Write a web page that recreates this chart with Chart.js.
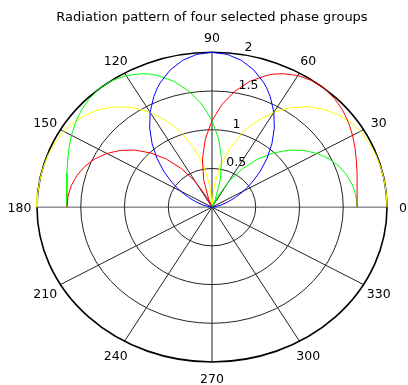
<!DOCTYPE html>
<html><head><meta charset="utf-8">
<script src="https://cdn.jsdelivr.net/npm/chart.js@4"></script>
<style>html,body{margin:0;padding:0;background:#fff}#wrap{width:408px;height:385px}</style>
</head><body><div id="wrap"><canvas id="c" width="408" height="385"></canvas></div>
<script>
// angles (degrees) at which each pattern was read
const angles = [0,5,10,15,20,25,30,35,40,45,50,55,60,65,68,70,75,80,85,90,95,100,105,110,112,115,120,125,130,135,140,145,150,155,160,165,170,175,180];
// radii
const blue   = [0,0.012,0.048,0.107,0.189,0.293,0.418,0.561,0.719,0.888,1.064,1.241,1.414,1.575,1.664,1.718,1.837,1.926,1.981,2.000,1.981,1.926,1.837,1.718,1.664,1.575,1.414,1.241,1.064,0.888,0.719,0.561,0.418,0.293,0.189,0.107,0.048,0.012,0];
const red    = [1.658,1.665,1.684,1.716,1.756,1.804,1.855,1.905,1.949,1.982,1.999,1.994,1.963,1.902,1.851,1.809,1.683,1.524,1.334,1.118,0.881,0.630,0.371,0.112,0.010,0.141,0.382,0.605,0.809,0.989,1.146,1.278,1.387,1.476,1.545,1.596,1.631,1.652,1.658];
const green  = [1.658,1.652,1.631,1.596,1.545,1.476,1.387,1.278,1.146,0.989,0.809,0.605,0.382,0.141,0.010,0.112,0.371,0.630,0.881,1.118,1.334,1.524,1.683,1.809,1.851,1.902,1.963,1.994,1.999,1.982,1.949,1.905,1.855,1.804,1.756,1.716,1.684,1.665,1.658];
const yellow = [2.000,2.000,1.999,1.997,1.991,1.978,1.956,1.920,1.866,1.792,1.693,1.568,1.414,1.232,1.110,1.023,0.791,0.539,0.273,0,0.273,0.539,0.791,1.023,1.110,1.232,1.414,1.568,1.693,1.792,1.866,1.920,1.956,1.978,1.991,1.997,1.999,2.000,2.000];
// grid / tick labels
const ringTicks = [0.5, 1, 1.5, 2];
const ringLabels = ['0.5', '1', '1.5', '2'];
const spokeAngles = [0, 30, 60, 90, 120, 150];
const angleTicks = [0, 30, 60, 90, 120, 150, 180, 210, 240, 270, 300, 330];
const angleLabels = ['0', '30', '60', '90', '120', '150', '180', '210', '240', '270', '300', '330'];
const rMax = 2;
const titleText = 'Radiation pattern of four selected phase groups';

const D2R = Math.PI / 180;
function toXY(r) {
  return angles.map((a, i) => ({ x: r[i] * Math.cos(a * D2R), y: r[i] * Math.sin(a * D2R) }));
}

const polarGrid = {
  id: 'polarGrid',
  beforeDatasetsDraw(chart) {
    const { ctx, scales: { x, y } } = chart;
    const cx = x.getPixelForValue(0), cy = y.getPixelForValue(0);
    ctx.save();
    // spokes
    spokeAngles.forEach(a => {
      const c = Math.cos(a * D2R), s = Math.sin(a * D2R);
      ctx.beginPath();
      ctx.moveTo(x.getPixelForValue(-rMax * c), y.getPixelForValue(-rMax * s));
      ctx.lineTo(x.getPixelForValue(rMax * c), y.getPixelForValue(rMax * s));
      ctx.strokeStyle = a === 0 ? '#555' : '#222';
      ctx.lineWidth = 1;
      ctx.stroke();
    });
    // rings
    ringTicks.forEach(r => {
      const rx = x.getPixelForValue(r) - cx;
      const ry = cy - y.getPixelForValue(r);
      ctx.beginPath();
      ctx.ellipse(cx, cy, rx, ry, 0, 0, Math.PI * 2);
      ctx.strokeStyle = r === rMax ? '#000' : '#222';
      ctx.lineWidth = r === rMax ? 1.6 : 1;
      ctx.stroke();
    });
    ctx.restore();
  },
  afterDraw(chart) {
    const { ctx, scales: { x, y } } = chart;
    ctx.save();
    ctx.fillStyle = '#000';
    ctx.font = '12.5px "DejaVu Sans"';
    ctx.textAlign = 'center';
    ctx.textBaseline = 'middle';
    angleTicks.forEach((a, i) => {
      const c = Math.cos(a * D2R), s = Math.sin(a * D2R);
      const px = x.getPixelForValue(1.1 * rMax * c);
      const py = y.getPixelForValue(1.1 * rMax * s) + 2;
      ctx.fillText(angleLabels[i], px - (a === 0 ? 1.5 : 0), py);
    });
    ctx.textAlign = 'left';
    ctx.textBaseline = 'alphabetic';
    const c82 = Math.cos(82 * D2R), s82 = Math.sin(82 * D2R);
    ringTicks.forEach((r, i) => {
      const rr = r + 0.025;
      ctx.fillText('  ' + ringLabels[i], x.getPixelForValue(rr * c82), y.getPixelForValue(rr * s82) - 1);
    });
    ctx.restore();
  }
};

function ds(r, color) {
  return { data: toXY(r), borderColor: color, backgroundColor: color, borderWidth: 1,
           showLine: true, pointRadius: 0, fill: false, tension: 0, clip: false };
}

new Chart(document.getElementById('c'), {
  type: 'scatter',
  data: { datasets: [ds(blue, '#0000ff'), ds(red, '#ff0000'), ds(green, '#00ff00'), ds(yellow, '#ffff00')] },
  options: {
    responsive: false,
    animation: false,
    events: [],
    layout: { padding: { left: 37, right: 21, top: 0, bottom: 23 } },
    plugins: {
      legend: { display: false },
      tooltip: { enabled: false },
      title: { display: true, text: titleText, color: '#000',
               font: { family: 'DejaVu Sans', size: 13, weight: 'normal', lineHeight: 1.2 },
               padding: { top: 10, bottom: 26.7 } }
    },
    scales: {
      x: { type: 'linear', min: -rMax, max: rMax, display: false },
      y: { type: 'linear', min: -rMax, max: rMax, display: false }
    }
  },
  plugins: [polarGrid]
});
</script>
</body></html>
